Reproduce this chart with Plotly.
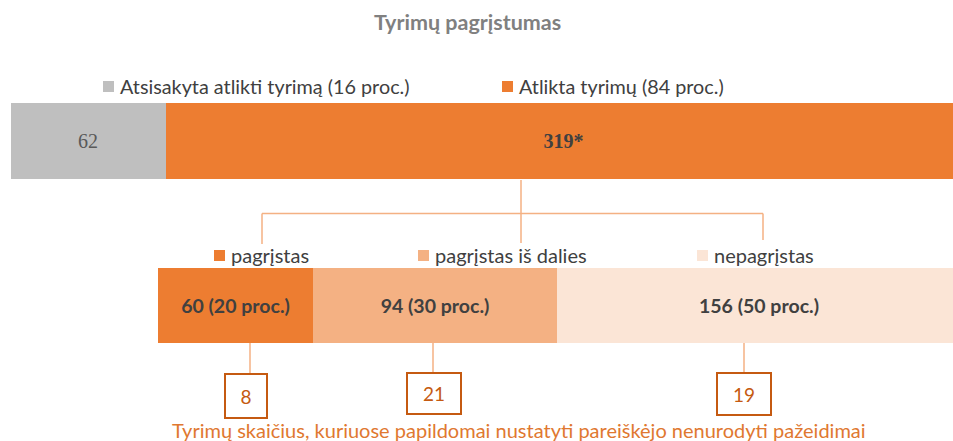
import plotly.graph_objects as go

# ---- data ----
top_labels = ["Atsisakyta atlikti tyrimą (16 proc.)", "Atlikta tyrimų (84 proc.)"]
top_values = [62, 319]
top_text = ["62", "<b>319*</b>"]
top_colors = ["#BFBFBF", "#ED7D31"]

sub_labels = ["pagrįstas", "pagrįstas iš dalies", "nepagrįstas"]
sub_values = [60, 94, 156]
sub_pct = [20, 30, 50]
sub_colors = ["#ED7D31", "#F4B183", "#FBE5D6"]

extra_counts = [8, 21, 19]

title_text = "Tyrimų pagrįstumas"
caption_text = "Tyrimų skaičius, kuriuose papildomai nustatyti pareiškėjo nenurodyti pažeidimai"

# figure slightly wider than the 953px window so the bars run off the right edge
W, H = 961, 441


def px(x):
    return x / W


def py(y):
    return 1 - y / H


fig = go.Figure()

# top stacked bar
for lab, v, t, c in zip(top_labels, top_values, top_text, top_colors):
    fig.add_trace(go.Bar(
        y=[0], x=[v], orientation="h", name=lab, xaxis="x", yaxis="y",
        marker=dict(color=c, line=dict(width=0)),
        text=[t], textposition="inside", insidetextanchor="middle", textangle=0,
        textfont=dict(family="Liberation Serif", size=20,
                      color="#595959" if c == "#BFBFBF" else "#404040"),
        hoverinfo="skip",
    ))

# bottom stacked bar
for lab, v, p, c in zip(sub_labels, sub_values, sub_pct, sub_colors):
    fig.add_trace(go.Bar(
        y=[0], x=[v], orientation="h", name=lab, xaxis="x2", yaxis="y2",
        marker=dict(color=c, line=dict(width=0)),
        text=[f"<b>{v} ({p} proc.)</b>"], textposition="inside",
        insidetextanchor="middle", textangle=0,
        textfont=dict(family="Lato", size=19.5, color="#404040"),
        hoverinfo="skip",
    ))

fig.update_layout(
    width=W, height=H,
    margin=dict(l=0, r=0, t=0, b=0),
    paper_bgcolor="white", plot_bgcolor="white",
    barmode="stack", bargap=0, showlegend=False,
    xaxis=dict(domain=[px(10.5), 1], range=[0, sum(top_values)], visible=False),
    yaxis=dict(domain=[py(179), py(103)], range=[-0.5, 0.5], visible=False),
    xaxis2=dict(domain=[px(158), 1], range=[0, sum(sub_values)], visible=False, anchor="y2"),
    yaxis2=dict(domain=[py(343), py(268)], range=[-0.5, 0.5], visible=False, anchor="x2"),
)

shapes = []
annotations = []

# title
annotations.append(dict(text=f"<b>{title_text}</b>", x=px(467), y=py(22), xref="paper", yref="paper",
                        showarrow=False, xanchor="center", yanchor="middle",
                        font=dict(family="Lato", size=21.5, color="#808080")))

# top legend
top_leg_x = [103, 502]
for lab, c, lx in zip(top_labels, top_colors, top_leg_x):
    shapes.append(dict(type="rect", xref="paper", yref="paper", x0=px(lx), x1=px(lx + 11),
                       y0=py(92), y1=py(81), fillcolor=c, line=dict(width=0)))
    annotations.append(dict(text=lab, x=px(lx + 15), y=py(86), xref="paper", yref="paper",
                            showarrow=False, xanchor="left", yanchor="middle",
                            font=dict(family="Lato", size=19.8, color="#404040")))

# bottom legend
sub_leg_x = [214, 418, 697]
for lab, c, lx in zip(sub_labels, sub_colors, sub_leg_x):
    shapes.append(dict(type="rect", xref="paper", yref="paper", x0=px(lx), x1=px(lx + 11),
                       y0=py(261), y1=py(250), fillcolor=c, line=dict(width=0)))
    annotations.append(dict(text=lab, x=px(lx + 15), y=py(255), xref="paper", yref="paper",
                            showarrow=False, xanchor="left", yanchor="middle",
                            font=dict(family="Lato", size=20, color="#404040")))

# connectors
conn = "#F4B183"
lines = [
    (521, 180, 521, 243),
    (262, 213.5, 763, 213.5),
    (262, 213.5, 262, 244),
    (763, 213.5, 763, 240),
    (250, 343, 250, 374),
    (433, 343, 433, 373),
    (744, 343, 744, 373),
]
for x0, y0, x1, y1 in lines:
    shapes.append(dict(type="line", xref="paper", yref="paper", x0=px(x0), y0=py(y0),
                       x1=px(x1), y1=py(y1), line=dict(color=conn, width=1.5)))

# boxes with counts
box_geom = [(246, 396, 42, 44), (434, 393.5, 54, 41), (744, 394, 54, 42)]
for n, (cx, cy, bw, bh) in zip(extra_counts, box_geom):
    annotations.append(dict(text=str(n), x=px(cx), y=py(cy), xref="paper", yref="paper",
                            showarrow=False, xanchor="center", yanchor="middle",
                            width=bw - 2, height=bh - 2, borderpad=0,
                            bordercolor="#C55A11", borderwidth=2, bgcolor="white",
                            font=dict(family="Lato", size=19, color="#C55A11")))

# caption
annotations.append(dict(text=caption_text, x=px(519), y=py(430), xref="paper", yref="paper",
                        showarrow=False, xanchor="center", yanchor="middle",
                        font=dict(family="Lato", size=20, color="#E07830")))

fig.update_layout(shapes=shapes, annotations=annotations)

fig.write_html(
    "out.html",
    config={"displayModeBar": False},
    post_script="document.body.style.margin='0';document.body.style.overflow='hidden';",
)
